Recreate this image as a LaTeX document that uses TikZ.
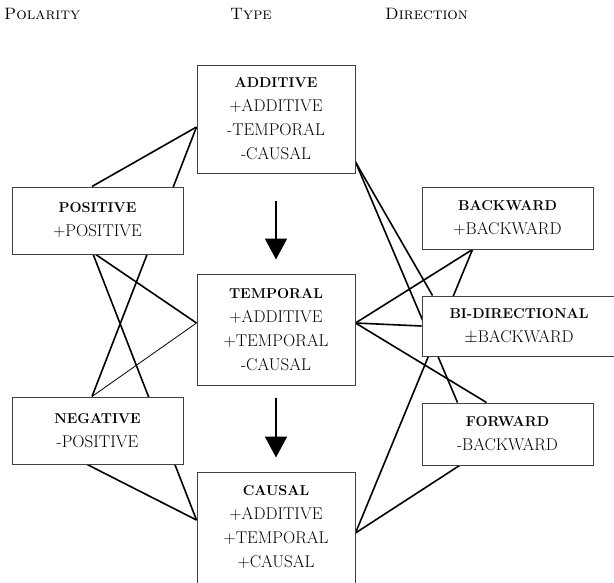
\documentclass[tikz,border=0pt]{standalone}
\usetikzlibrary{calc,arrows.meta,backgrounds}
\begin{document}
\begin{tikzpicture}[x=1pt,y=-1pt,
  box/.style={draw=black!75,line width=1pt,fill=white,inner sep=0pt,align=center,
    font=\fontsize{17}{24}\selectfont},
  smallbox/.style={box,minimum width=171pt,minimum height=64pt},
  bigbox/.style={box,minimum width=158pt,minimum height=109pt},
  link/.style={line width=1.6pt},
  thinlink/.style={line width=0.8pt},
  flow/.style={line width=2pt,-{Triangle[width=22pt,length=21pt]}},
  head/.style={anchor=base west,inner sep=0pt,font=\fontsize{16.5}{18}\selectfont}]
\newcommand{\ttl}[1]{{\bfseries\fontsize{14.3}{24}\selectfont #1}}
\useasboundingbox (0,0) rectangle (614,582);

\node[head] (hpol) at (4,19) {\textsc{Polarity}};
\node[head] (htyp) at (230,19) {\textsc{Type}};
\node[head] (hdir) at (385,19) {\textsc{Direction}};

\node[bigbox,minimum height=108pt] (add) at (276,119) {\ttl{ADDITIVE}\\+ADDITIVE\\-TEMPORAL\\-CAUSAL};
\node[bigbox,minimum height=111pt] (temp) at (276,329.5) {\ttl{TEMPORAL}\\+ADDITIVE\\+TEMPORAL\\-CAUSAL};
\node[bigbox,minimum height=111pt] (caus) at (276,527.5) {\ttl{CAUSAL}\\+ADDITIVE\\+TEMPORAL\\+CAUSAL};

\node[smallbox,minimum height=67pt] (pos) at (97.5,220.5) {\ttl{POSITIVE}\\+POSITIVE};
\node[smallbox,minimum height=67pt] (neg) at (97.5,430.5) {\ttl{NEGATIVE}\\-POSITIVE};

\node[smallbox,minimum height=62pt] (back) at (507.5,218) {\ttl{BACKWARD}\\+BACKWARD};
\node[smallbox,minimum width=194pt,minimum height=60pt] (bidir) at (519,326) {\ttl{BI-DIRECTIONAL}\\$\pm$BACKWARD};
\node[smallbox,minimum height=62pt] (fwd) at (507.5,434) {\ttl{FORWARD}\\-BACKWARD};

\begin{scope}[on background layer]
  % polarity -- type
  \draw[link] ($(add.west)+(0,8)$) -- ($(pos.north west)!0.468!(pos.north east)$);
  \draw[link] ($(add.west)+(0,8)$) -- ($(neg.north west)!0.468!(neg.north east)$);
  \draw[link] ($(pos.south west)!0.49!(pos.south east)$) -- ($(temp.west)+(0,-6.5)$);
  \draw[thinlink] ($(neg.north west)!0.468!(neg.north east)$) -- ($(temp.west)+(0,-6.5)$);
  \draw[link] ($(pos.south west)!0.475!(pos.south east)$) -- ($(caus.west)+(0,-7.5)$);
  \draw[link] ($(neg.south west)!0.44!(neg.south east)$) -- ($(caus.west)+(0,-7.5)$);
  % type -- direction
  \draw[link] ($(add.east)+(0,43)$) -- ($(bidir.north west)+(11,0)$);
  \draw[link] ($(add.east)+(0,43)$) -- ($(fwd.north west)+(36,0)$);
  \draw[link] ($(temp.east)+(0,-6.5)$) -- ($(back.south west)+(51,0)$);
  \draw[link] ($(temp.east)+(0,-6.5)$) -- ($(bidir.west)+(0,0)$);
  \draw[link] ($(temp.east)+(0,-6.5)$) -- ($(fwd.north west)+(65,0)$);
  \draw[link] ($(caus.east)+(0,5.5)$) -- ($(back.south west)+(51,0)$);
  \draw[link] ($(caus.east)+(0,5.5)$) -- ($(fwd.south west)+(38,0)$);
\end{scope}

\draw[flow] ($(add.south)+(0,27)$) -- ($(temp.north)+(0,-14)$);
\draw[flow] ($(temp.south)+(0,12)$) -- ($(caus.north)+(0,-14)$);
\end{tikzpicture}
\end{document}
